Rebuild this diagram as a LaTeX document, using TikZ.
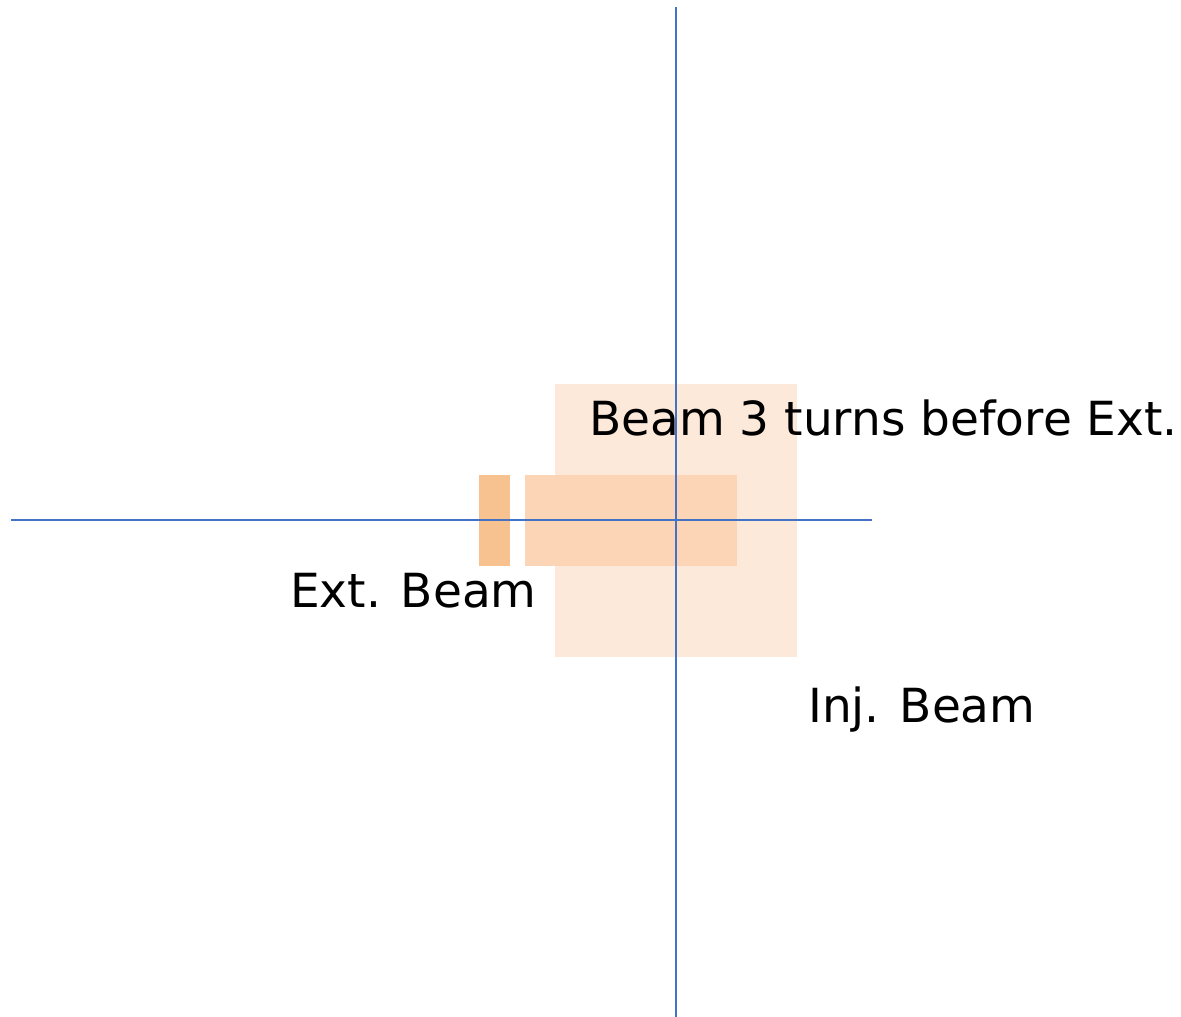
\documentclass[tikz,border=0pt]{standalone}
\usepackage{fontspec}
\setmainfont{DejaVu Sans}
\definecolor{bigfill}{HTML}{FCE9DA}
\definecolor{midfill}{HTML}{FBD5B5}
\definecolor{smallfill}{HTML}{F8C190}
\definecolor{axisblue}{HTML}{4472C4}
\begin{document}
\begin{tikzpicture}[x=1pt,y=-1pt,
  axis/.style={draw=axisblue,line width=1.5pt},
  lbl/.style={anchor=base west,inner sep=0pt,font=\fontsize{47}{50}\selectfont}]
\useasboundingbox (0,0) rectangle (1181,1017);
\fill[bigfill] (555,384) rectangle (797,657);
\fill[midfill] (525,475) rectangle (737,566);
\fill[smallfill] (479,475) rectangle (510,566);
\node[lbl] (t1) at (589,435) {Beam 3 turns before Ext.};
\node[lbl] (t2) at (290,607) {Ext. Beam};
\node[lbl] (t3) at (808,722) {Inj. Beam};
\coordinate (vt) at (676,7);
\coordinate (vb) at (676,1017);
\coordinate (hl) at (11,520);
\coordinate (hr) at (872,520);
\draw[axis] (vt) -- (vb);
\draw[axis] (hl) -- (hr);
\end{tikzpicture}
\end{document}
